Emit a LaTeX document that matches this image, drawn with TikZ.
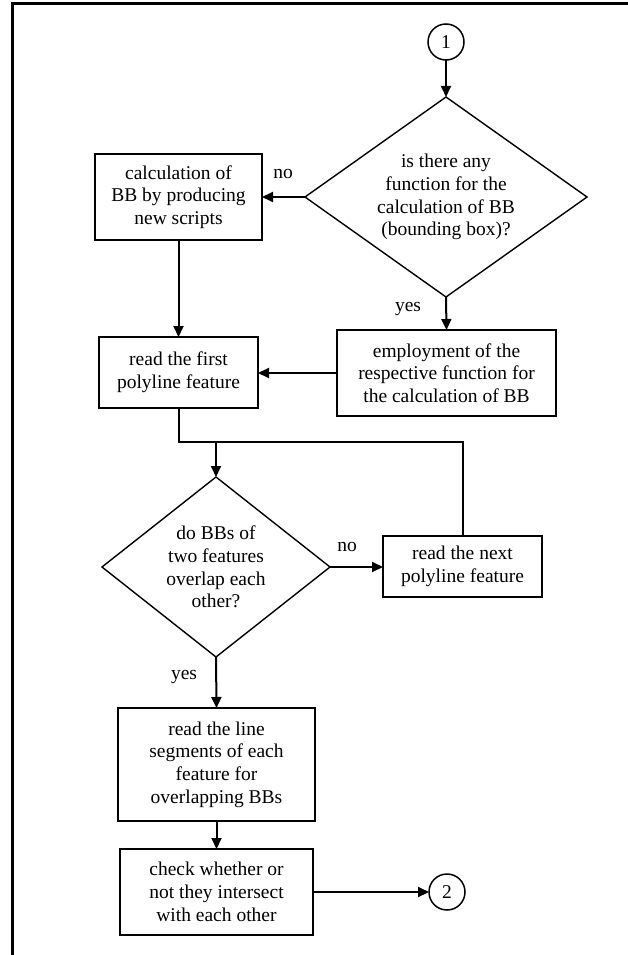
\documentclass[tikz,border=0pt]{standalone}
\usepackage{fontspec}
\setmainfont{Liberation Serif}
\usetikzlibrary{shapes.geometric,arrows.meta}

\begin{document}
\begin{tikzpicture}[x=1pt,y=-1pt,
  font=\fontsize{19.5}{22.7}\selectfont,
  box/.style={draw,line width=1.7pt,rectangle,align=center,inner sep=0pt,outer sep=0pt},
  dec/.style={draw,line width=1.4pt,diamond,align=center,inner sep=0pt,outer sep=0pt},
  conn/.style={draw,line width=1.5pt,circle,minimum size=36,inner sep=0pt,outer sep=0pt},
  flow/.style={line width=2pt,-{Triangle[length=11pt,width=10pt]}},
  line/.style={line width=2pt}]
\useasboundingbox (0,0) rectangle (628,955);
\draw[line width=3pt] (12.5,955) -- (12.5,4) -- (628,4);

\node[conn] (c1) at (446,42) {1};
\node[dec,aspect=1.41,minimum width=282,minimum height=200] (d1) at (446,197) {is there any\\function for the\\calculation of BB\\(bounding box)?};
\node[box,minimum width=167,minimum height=86] (b1) at (178.5,197) {calculation of\\BB by producing\\new scripts};
\node[box,minimum width=159,minimum height=71] (b2) at (178.5,372.5) {read the first\\polyline feature};
\node[box,minimum width=219,minimum height=86] (b3) at (446.5,373) {employment of the\\respective function for\\the calculation of BB};
\node[dec,aspect=1.27,minimum width=228,minimum height=180] (d2) at (216,567) {do BBs of\\two features\\overlap each\\other?};
\node[box,minimum width=159,minimum height=61] (b4) at (462.5,566.5) {read the next\\polyline feature};
\node[box,minimum width=197,minimum height=113] (b5) at (216.5,764.5) {read the line\\segments of each\\feature for\\overlapping BBs};
\node[box,minimum width=193,minimum height=86] (b6) at (216.5,892) {check whether or\\not they intersect\\with each other};
\node[conn] (c2) at (447,892) {2};
\coordinate (j) at (216,442);

\node (no1) at (283,174) {no};
\node (yes1) at (408,309) {yes};
\node (no2) at (347,547) {no};
\node (yes2) at (184,677) {yes};

\draw[flow] (c1) -- (d1);
\draw[flow] (d1.west) -- (b1.east);
\draw[flow] (d1.south) -- (b3.north);
\draw[flow] (b1.south) -- (b2.north);
\draw[flow] (b3.west) -- (b2.east |- b3.west);
\draw[line] (b2.south) |- (b4.north |- j) -- (b4.north);
\draw[flow] (j) -- (d2.north);
\draw[flow] (d2.east) -- (b4.west |- d2.east);
\draw[flow] (d2.south) -- (b5.north);
\draw[flow] (b5.south) -- (b6.north);
\draw[flow] (b6.east) -- (c2.west);
\end{tikzpicture}
\end{document}
